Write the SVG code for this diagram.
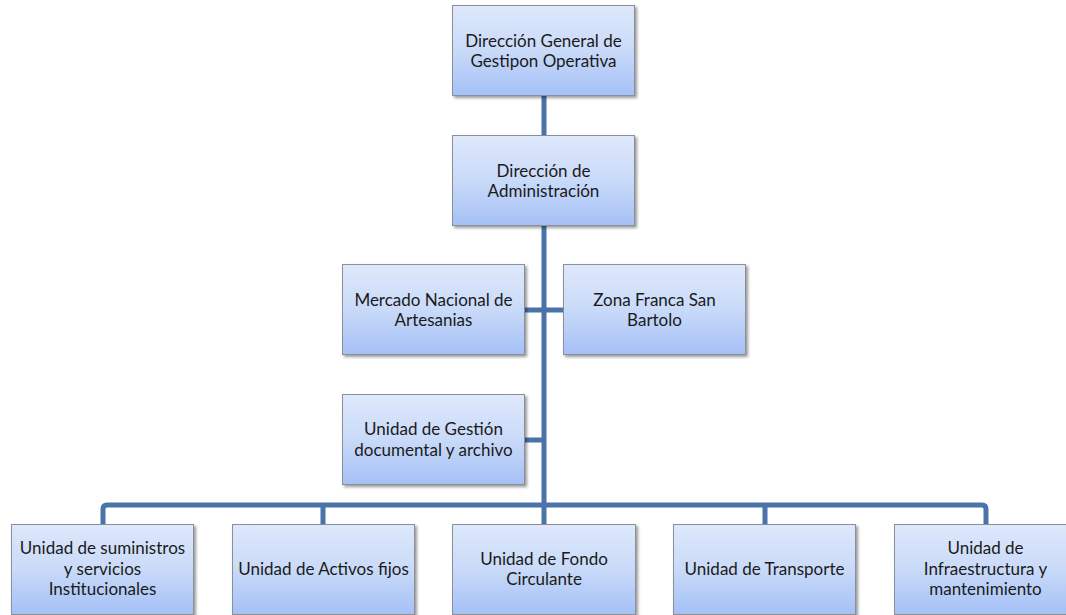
<svg xmlns="http://www.w3.org/2000/svg" width="1066" height="615" viewBox="0 0 1066 615">
<defs>
<linearGradient id="g" x1="0" y1="0" x2="0" y2="1">
<stop offset="0" stop-color="#dee8fb"/>
<stop offset="0.5" stop-color="#c9daf9"/>
<stop offset="1" stop-color="#a4c0f6"/>
</linearGradient>
<filter id="sh" x="-10%" y="-10%" width="125%" height="130%">
<feDropShadow dx="2" dy="2" stdDeviation="1.5" flood-color="#000" flood-opacity="0.4"/>
</filter>
</defs>
<style>
.box{fill:url(#g);stroke:#8a8f99;stroke-width:1;filter:url(#sh)}
.t{font-family:Lato,"Liberation Sans",sans-serif;font-size:17px;fill:#1a1a1a;text-anchor:middle}
.c{fill:none;stroke:#4a73a9;stroke-width:5}
</style>
<rect width="1066" height="615" fill="#fff"/>
<g id="connectors">
<path class="c" d="M544 96 V505"/>
<path class="c" d="M525 310 H563"/>
<path class="c" d="M524 440 H544"/>
<path class="c" d="M103 524 V509 Q103 505 107 505 H982 Q986 505 986 509 V524"/>
<path class="c" d="M323 505 V524 M544 505 V524 M765 505 V524"/>
</g>
<g id="n1"><rect class="box" x="452.5" y="5.5" width="182" height="90"/><text class="t" x="543.5" y="47">Dirección General de</text><text class="t" x="543.5" y="67">Gestipon Operativa</text></g>
<g id="n2"><rect class="box" x="452.5" y="135.5" width="182" height="90"/><text class="t" x="543.5" y="177">Dirección de</text><text class="t" x="543.5" y="197">Administración</text></g>
<g id="n3"><rect class="box" x="342.5" y="264.5" width="182" height="90"/><text class="t" x="433.5" y="306">Mercado Nacional de</text><text class="t" x="433.5" y="326">Artesanias</text></g>
<g id="n4"><rect class="box" x="563.5" y="264.5" width="182" height="90"/><text class="t" x="654.5" y="306">Zona Franca San</text><text class="t" x="654.5" y="326">Bartolo</text></g>
<g id="n5"><rect class="box" x="342.5" y="394.5" width="182" height="90"/><text class="t" x="433.5" y="435">Unidad de Gestión</text><text class="t" x="433.5" y="456">documental y archivo</text></g>
<g id="n6"><rect class="box" x="11.5" y="524.5" width="182" height="90"/><text class="t" x="102.5" y="554">Unidad de suministros</text><text class="t" x="102.5" y="575">y servicios</text><text class="t" x="102.5" y="595">Institucionales</text></g>
<g id="n7"><rect class="box" x="232.5" y="524.5" width="182" height="90"/><text class="t" x="323.5" y="575">Unidad de Activos fijos</text></g>
<g id="n8"><rect class="box" x="452.5" y="524.5" width="183" height="90"/><text class="t" x="544" y="565">Unidad de Fondo</text><text class="t" x="544" y="585">Circulante</text></g>
<g id="n9"><rect class="box" x="673.5" y="524.5" width="182" height="90"/><text class="t" x="764.5" y="575">Unidad de Transporte</text></g>
<g id="n10"><rect class="box" x="894.5" y="524.5" width="182" height="90"/><text class="t" x="985.5" y="554">Unidad de</text><text class="t" x="985.5" y="575">Infraestructura y</text><text class="t" x="985.5" y="595">mantenimiento</text></g>
</svg>
